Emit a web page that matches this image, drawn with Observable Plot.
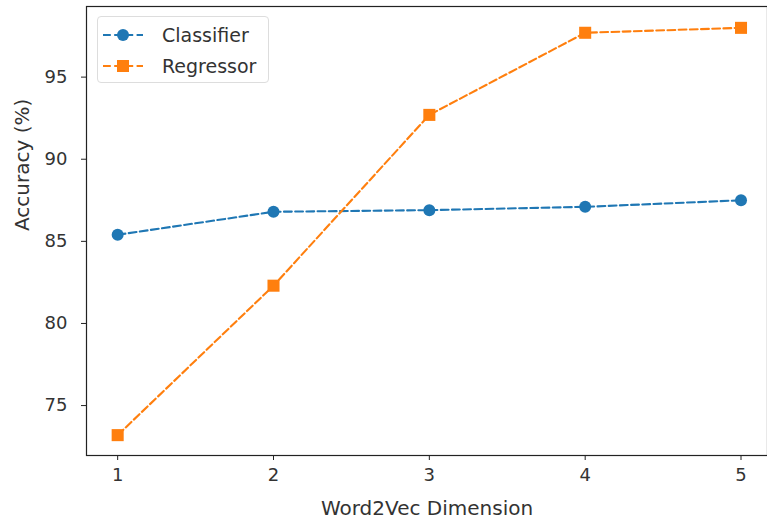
<!DOCTYPE html>
<html>
<head>
<meta charset="utf-8">
<script src="https://cdn.jsdelivr.net/npm/d3@7"></script>
<script src="https://cdn.jsdelivr.net/npm/@observablehq/plot@0.6"></script>
<style>
  html, body { margin: 0; padding: 0; background: #fff; }
  #wrap { position: relative; width: 767px; height: 521px; font-family: "DejaVu Sans", sans-serif; }
  #legend { position: absolute; left: 97px; top: 16px; width: 172px; height: 67px; box-sizing: border-box;
    border: 1px solid #ddd; border-radius: 4px; background: rgba(255,255,255,0.85); }
  .item { position: absolute; left: 5px; display: flex; align-items: center; font-size: 19px; color: #333; }
  .item span { margin-left: 19px; }
</style>
</head>
<body>
<div id="wrap"></div>
<script>
const dims = [1, 2, 3, 4, 5];
const classifier = [85.4, 86.8, 86.9, 87.1, 87.5];
const regressor = [73.2, 82.3, 92.7, 97.7, 98.0];
const seriesNames = ["Classifier", "Regressor"];
const colors = ["#1f77b4", "#ff7f0e"];
const xTicks = [1, 2, 3, 4, 5];
const yTicks = [75, 80, 85, 90, 95];

const rowsC = dims.map((d, i) => ({dim: d, acc: classifier[i]}));
const rowsR = dims.map((d, i) => ({dim: d, acc: regressor[i]}));

const chart = Plot.plot({
  width: 767,
  height: 521,
  marginLeft: 86,
  marginTop: 6,
  marginBottom: 66,
  marginRight: 0,
  style: {fontFamily: "DejaVu Sans, sans-serif", background: "#fff", color: "#333"},
  x: {domain: [0.8, 5.17]},
  y: {domain: [71.96, 99.3]},
  marks: [
    Plot.axisX({ticks: xTicks, tickFormat: "d", tickSize: 5, tickPadding: 8, fontSize: 18, label: null, stroke: "#222"}),
    Plot.axisY({ticks: yTicks, tickFormat: "d", tickSize: 5, tickPadding: 14, fontSize: 18, label: null, stroke: "#222"}),
    Plot.line(rowsC, {x: "dim", y: "acc", stroke: colors[0], strokeWidth: 2.1, strokeDasharray: "7.8,3.4"}),
    Plot.line(rowsR, {x: "dim", y: "acc", stroke: colors[1], strokeWidth: 2.1, strokeDasharray: "7.8,3.4"}),
    Plot.dot(rowsC, {x: "dim", y: "acc", fill: colors[0], r: 6, symbol: "circle"}),
    Plot.dot(rowsR, {x: "dim", y: "acc", fill: colors[1], r: 6.8, symbol: "square"}),
    Plot.frame({stroke: "#222", strokeWidth: 1.2}),
    Plot.text(["Word2Vec Dimension"], {frameAnchor: "bottom", dy: 59, fontSize: 20, fill: "#333"}),
    Plot.text(["Accuracy (%)"], {frameAnchor: "left", dx: -64, rotate: -90, fontSize: 20, fill: "#333"})
  ]
});

const wrap = document.getElementById("wrap");
wrap.appendChild(chart);

const legend = document.createElement("div");
legend.id = "legend";
const symbols = [
  '<circle cx="20" cy="8" r="6" fill="' + colors[0] + '"/>',
  '<rect x="14" y="2" width="12" height="12" fill="' + colors[1] + '"/>'
];
seriesNames.forEach((name, i) => {
  const item = document.createElement("div");
  item.className = "item";
  item.style.top = (7 + i * 31) + "px";
  item.innerHTML = '<svg width="40" height="16"><line x1="0" y1="8" x2="40" y2="8" stroke="' + colors[i] +
    '" stroke-width="2.1" stroke-dasharray="7.8,3.4"/>' + symbols[i] + '</svg><span>' + name + '</span>';
  legend.appendChild(item);
});
wrap.appendChild(legend);
</script>
</body>
</html>
